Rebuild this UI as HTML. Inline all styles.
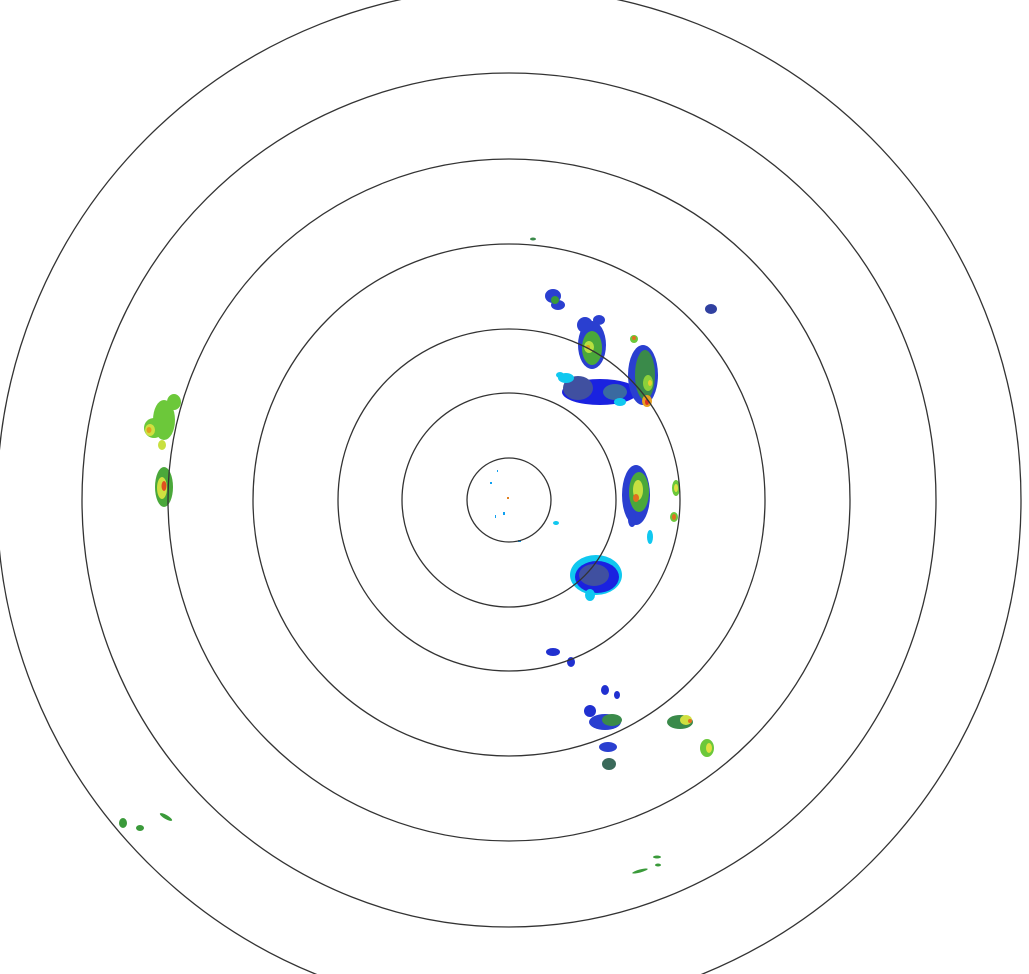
<!DOCTYPE html>
<html><head><meta charset="utf-8"><style>html,body{margin:0;padding:0;background:#fff;}svg{display:block}</style></head>
<body>
<svg width="1029" height="974" viewBox="0 0 1029 974" xmlns="http://www.w3.org/2000/svg">
<!-- NE cluster -->
<g>
<ellipse cx="553" cy="296" rx="8" ry="7" fill="#2a3fd0"/>
<ellipse cx="558" cy="305" rx="7" ry="5" fill="#2a3fd0"/>
<ellipse cx="555" cy="300" rx="4" ry="4" fill="#3a9a3a"/>
<ellipse cx="592" cy="345" rx="14" ry="24" fill="#2a3fd0"/>
<ellipse cx="585" cy="325" rx="8" ry="8" fill="#2a3fd0"/>
<ellipse cx="599" cy="320" rx="6" ry="5" fill="#2a3fd0"/>
<ellipse cx="592" cy="348" rx="10" ry="17" fill="#4aa83a"/>
<ellipse cx="589" cy="347" rx="5" ry="6" fill="#b8e040"/>
<ellipse cx="588" cy="347" rx="2" ry="2" fill="#e0a020"/>
<ellipse cx="600" cy="392" rx="38" ry="13" fill="#1a22e0"/>
<ellipse cx="578" cy="388" rx="15" ry="12" fill="#4050a0"/>
<ellipse cx="566" cy="378" rx="8" ry="5" fill="#10c8f0"/>
<ellipse cx="560" cy="375" rx="4" ry="3" fill="#10c8f0"/>
<ellipse cx="615" cy="392" rx="12" ry="8" fill="#3a6aa0"/>
<ellipse cx="620" cy="402" rx="6" ry="4" fill="#10c8f0"/>
<ellipse cx="643" cy="375" rx="15" ry="30" fill="#2a3fd0"/>
<ellipse cx="645" cy="375" rx="10" ry="25" fill="#3a8a4a"/>
<ellipse cx="648" cy="383" rx="5" ry="8" fill="#8cd03a"/>
<ellipse cx="650" cy="383" rx="2" ry="3" fill="#e8d030"/>
<ellipse cx="647" cy="401" rx="5" ry="6" fill="#e8a020"/>
<ellipse cx="647" cy="402" rx="2" ry="3" fill="#e03020"/>
<ellipse cx="634" cy="339" rx="4" ry="4" fill="#6cc83a"/>
<ellipse cx="634" cy="338" rx="2" ry="2" fill="#e07020"/>
<ellipse cx="711" cy="309" rx="6" ry="5" fill="#3040a0"/>
<ellipse cx="533" cy="239" rx="3" ry="1.5" fill="#3a8a4a"/>
</g>
<!-- E cluster -->
<g>
<ellipse cx="636" cy="495" rx="14" ry="30" fill="#2a3fd0"/>
<ellipse cx="639" cy="492" rx="10" ry="20" fill="#4aa83a"/>
<ellipse cx="638" cy="490" rx="5" ry="10" fill="#c8e040"/>
<ellipse cx="636" cy="498" rx="3" ry="4" fill="#e07020"/>
<ellipse cx="632" cy="520" rx="4" ry="7" fill="#2a3fd0"/>
<ellipse cx="650" cy="537" rx="3" ry="7" fill="#10c8f0"/>
<ellipse cx="676" cy="488" rx="4" ry="8" fill="#6cc83a"/>
<ellipse cx="676" cy="488" rx="2" ry="4" fill="#e0e040"/>
<ellipse cx="674" cy="517" rx="4" ry="5" fill="#6cc83a"/>
<ellipse cx="674" cy="517" rx="2" ry="3" fill="#e07020"/>
<ellipse cx="556" cy="523" rx="3" ry="2" fill="#10c8f0"/>
</g>
<!-- SE near -->
<g>
<ellipse cx="596" cy="575" rx="26" ry="20" fill="#10c8f0"/>
<ellipse cx="597" cy="577" rx="22" ry="16" fill="#1a22e0"/>
<ellipse cx="594" cy="575" rx="15" ry="11" fill="#4050a0"/>
<ellipse cx="590" cy="595" rx="5" ry="6" fill="#10c8f0"/>
<ellipse cx="553" cy="652" rx="7" ry="4" fill="#2030d0"/>
<ellipse cx="571" cy="662" rx="4" ry="5" fill="#2030d0"/>
<ellipse cx="605" cy="690" rx="4" ry="5" fill="#2030d0"/>
<ellipse cx="617" cy="695" rx="3" ry="4" fill="#2030d0"/>
<ellipse cx="590" cy="711" rx="6" ry="6" fill="#2030d0"/>
<ellipse cx="605" cy="722" rx="16" ry="8" fill="#2a3fd0"/>
<ellipse cx="612" cy="720" rx="10" ry="6" fill="#3a8a4a"/>
<ellipse cx="608" cy="747" rx="9" ry="5" fill="#2a3fd0"/>
<ellipse cx="609" cy="764" rx="7" ry="6" fill="#3a6a5a"/>
<ellipse cx="680" cy="722" rx="13" ry="7" fill="#3a8a4a"/>
<ellipse cx="686" cy="720" rx="6" ry="5" fill="#d0e040"/>
<ellipse cx="690" cy="721" rx="2" ry="2" fill="#e07020"/>
<ellipse cx="707" cy="748" rx="7" ry="9" fill="#6cc83a"/>
<ellipse cx="709" cy="748" rx="3" ry="5" fill="#e0e040"/>
</g>
<!-- W cluster -->
<g>
<ellipse cx="164" cy="420" rx="11" ry="20" fill="#6cc83a"/>
<ellipse cx="154" cy="428" rx="10" ry="10" fill="#6cc83a"/>
<ellipse cx="174" cy="402" rx="7" ry="8" fill="#6cc83a"/>
<ellipse cx="150" cy="430" rx="5" ry="6" fill="#d0e040"/>
<ellipse cx="149" cy="430" rx="2.5" ry="3" fill="#e0a020"/>
<ellipse cx="162" cy="445" rx="4" ry="5" fill="#c8e040"/>
<ellipse cx="164" cy="487" rx="9" ry="20" fill="#4aa83a"/>
<ellipse cx="162" cy="488" rx="5" ry="11" fill="#d0e040"/>
<ellipse cx="164" cy="486" rx="2.5" ry="5" fill="#e05020"/>
</g>
<!-- SW/SE faint -->
<g fill="#3a9a3a">
<ellipse cx="123" cy="823" rx="4" ry="5"/>
<ellipse cx="140" cy="828" rx="4" ry="3"/>
<ellipse cx="166" cy="817" rx="7" ry="2" transform="rotate(30 166 817)"/>
<ellipse cx="657" cy="857" rx="4" ry="1.5"/>
<ellipse cx="640" cy="871" rx="8" ry="1.5" transform="rotate(-15 640 871)"/>
<ellipse cx="658" cy="865" rx="3" ry="1.5"/>
</g>
<!-- center specks -->
<g fill="#10a0f0">
<rect x="490" y="482" width="2" height="2"/>
<rect x="497" y="470" width="1" height="2"/>
<rect x="503" y="512" width="2" height="3"/>
<rect x="518" y="540" width="3" height="2"/>
<rect x="495" y="515" width="1" height="3"/>
<rect x="507" y="497" width="2" height="2" fill="#e08020"/>
</g>
<g fill="none" stroke="#333" stroke-width="1.3">
<circle cx="509" cy="500" r="42"/>
<circle cx="509" cy="500" r="107"/>
<circle cx="509" cy="500" r="171"/>
<circle cx="509" cy="500" r="256"/>
<circle cx="509" cy="500" r="341"/>
<circle cx="509" cy="500" r="427"/>
<circle cx="509" cy="500" r="512"/>
</g>
</svg>
</body></html>
